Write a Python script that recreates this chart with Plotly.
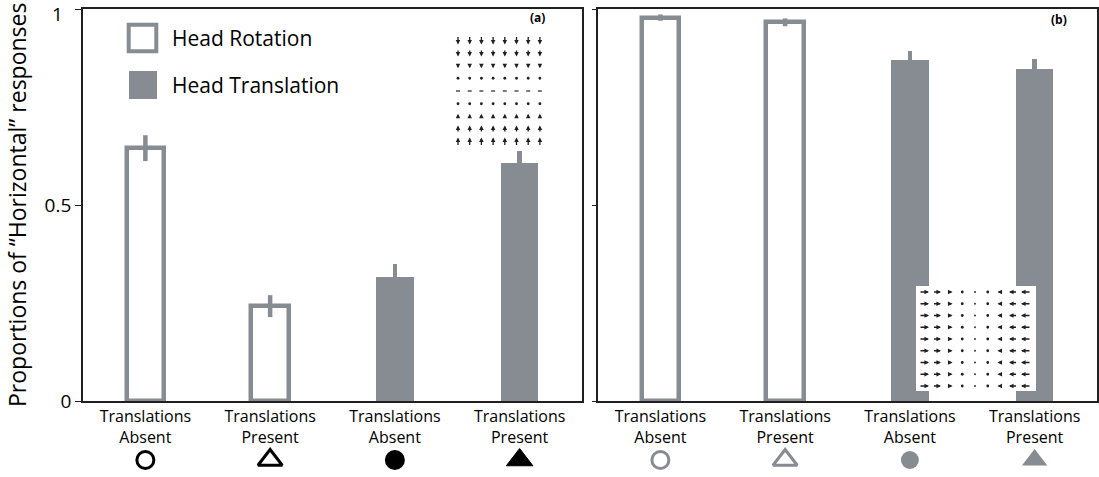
import plotly.graph_objects as go

# ---------------- data ----------------
categories = [1, 2, 3, 4]
tick_labels = ["Translations<br>Absent", "Translations<br>Present",
               "Translations<br>Absent", "Translations<br>Present"]
y_ticks = [0, 0.5, 1]
y_tick_labels = ["0", "0.5", "1"]

a_rotation = [0.645, 0.242]
a_rotation_err = [0.033, 0.028]
a_translation = [0.316, 0.606]
a_translation_err = [0.033, 0.033]

b_rotation = [0.978, 0.966]
b_rotation_err = [0.008, 0.010]
b_translation = [0.871, 0.848]
b_translation_err = [0.022, 0.025]

marker_symbols = ["circle-open", "triangle-up-open", "circle", "triangle-up"]

GRAY = "#878c93"
DARK = "#231f20"
FONT = "Open Sans"
W, H = 1099, 477

def px(x):
    return x / W

def py(y):
    return 1 - y / H

fig = go.Figure()

def add_panel(xa, ya, ym, rot, rot_err, tr, tr_err, mcolor, sizes, lw):
    fig.add_trace(go.Bar(
        x=categories[:2], y=rot, width=0.3, name="Head Rotation",
        marker=dict(color="white", line=dict(color=GRAY, width=4.5)),
        error_y=dict(type="data", array=rot_err, color=GRAY, thickness=4.5, width=0),
        xaxis=xa, yaxis=ya, showlegend=False))
    fig.add_trace(go.Bar(
        x=categories[2:], y=tr, width=0.3, name="Head Translation",
        marker=dict(color=GRAY, line=dict(width=0)),
        error_y=dict(type="data", array=tr_err, color=GRAY, thickness=4.5, width=0),
        xaxis=xa, yaxis=ya, showlegend=False))
    fig.add_trace(go.Scatter(
        x=categories, y=[0.5] * 4, mode="markers", cliponaxis=False,
        marker=dict(symbol=marker_symbols, size=sizes, color=mcolor, opacity=1,
                    line=dict(color=mcolor, width=lw)),
        xaxis=xa, yaxis=ym, showlegend=False, hoverinfo="skip"))

add_panel("x", "y", "y3", a_rotation, a_rotation_err, a_translation, a_translation_err,
          "#000000", [17, 21, 20, 23], [3, 3, 0, 1])
add_panel("x2", "y2", "y4", b_rotation, b_rotation_err, b_translation, b_translation_err,
          GRAY, [17, 21, 18, 22], [3, 3, 0, 0])

ydom = [py(401), py(9)]
axis_common = dict(showline=True, mirror=True, linecolor=DARK, linewidth=1.8,
                   showgrid=False, zeroline=False, automargin=False)
fig.update_layout(
    template="none",
    width=W, height=H, margin=dict(l=0, r=0, t=0, b=0, pad=0),
    paper_bgcolor="white", plot_bgcolor="white",
    font=dict(family=FONT, color="black"),
    bargap=0, showlegend=False,
    xaxis=dict(domain=[px(83), px(582)], range=[0.5, 4.5], tickvals=categories,
               ticktext=tick_labels, ticks="", tickfont=dict(size=16, family=FONT, color="black"),
               anchor="y", **axis_common),
    # the top label "1" sits a little below its tick in the reference; drawn as annotation
    yaxis=dict(domain=ydom, range=[0, 1], tickvals=y_ticks,
               ticktext=[y_tick_labels[0], y_tick_labels[1], ""],
               ticks="outside", ticklen=6, tickcolor=DARK, tickwidth=1,
               tickfont=dict(size=19, family=FONT, color="black"), anchor="x", **axis_common),
    xaxis2=dict(domain=[px(598), px(1097)], range=[0.5, 4.5], tickvals=categories,
                ticktext=tick_labels, ticks="", tickfont=dict(size=16, family=FONT, color="black"),
                anchor="y2", **axis_common),
    yaxis2=dict(domain=ydom, range=[0, 1], tickvals=y_ticks, showticklabels=False,
                ticks="outside", ticklen=4, tickcolor=DARK, tickwidth=1,
                anchor="x2", **axis_common),
    yaxis3=dict(domain=[py(470), py(450)], range=[0, 1], visible=False, anchor="x"),
    yaxis4=dict(domain=[py(470), py(450)], range=[0, 1], visible=False, anchor="x2"),
)

shapes = []
annotations = []

def text(x, y, s, size, anchor="center", angle=0):
    annotations.append(dict(x=px(x), y=py(y), xref="paper", yref="paper", text=s,
                            xanchor=anchor, yanchor="middle", textangle=angle,
                            showarrow=False, font=dict(size=size, family=FONT, color="black")))

# y-axis title
text(17, 205, "Proportions of \u201cHorizontal\u201d responses", 23, angle=-90)
# top y tick label
text(65, 14, y_tick_labels[2], 19, anchor="right")

# panel labels
text(537, 18, "<b>(a)</b>", 12)
text(1059, 20, "<b>(b)</b>", 12)

# legend (drawn)
shapes.append(dict(type="rect", xref="paper", yref="paper",
                   x0=px(128.7), x1=px(156.3), y0=py(51.3), y1=py(24.7),
                   fillcolor="white", line=dict(color=GRAY, width=4)))
shapes.append(dict(type="rect", xref="paper", yref="paper",
                   x0=px(129), x1=px(157), y0=py(99), y1=py(71),
                   fillcolor=GRAY, line=dict(width=0)))
text(170, 38, "Head Rotation", 21, anchor="left")
text(170, 85, "Head Translation", 21, anchor="left")

def arrow(xh, yh, ax, ay):
    annotations.append(dict(x=px(xh), y=py(yh), xref="paper", yref="paper", text="",
                            showarrow=True, ax=ax, ay=ay, arrowhead=2, arrowsize=0.7,
                            arrowwidth=1.3, arrowcolor=DARK, standoff=0, startstandoff=0))

def dot(xc, yc, r):
    shapes.append(dict(type="circle", xref="paper", yref="paper",
                       x0=px(xc - r), x1=px(xc + r), y0=py(yc + r), y1=py(yc - r),
                       fillcolor=DARK, line=dict(width=0)))

def dash(xc, yc, half):
    shapes.append(dict(type="line", xref="paper", yref="paper",
                       x0=px(xc - half), x1=px(xc + half), y0=py(yc), y1=py(yc),
                       line=dict(color=DARK, width=1.2)))

# inset (a): vertical flow converging on the middle row
a_cols = [458 + 11.7 * i for i in range(8)]
a_rows = [40 + 12.75 * j for j in range(9)]
a_len = [9, 7.5, 5.5, 0, 0, 0, 5.5, 7.5, 9]
for j, yc in enumerate(a_rows):
    for xc in a_cols:
        L = a_len[j]
        if j < 3:
            arrow(xc, yc + L / 2, 0, -L)
        elif j > 5:
            arrow(xc, yc - L / 2, 0, L)
        elif j == 4:
            dash(xc, yc, 2)
        else:
            dot(xc, yc, 1.4)

# inset (b): white card with horizontal flow converging on the middle column
shapes.append(dict(type="rect", xref="paper", yref="paper", layer="above",
                   x0=px(916), x1=px(1036), y0=py(391), y1=py(286),
                   fillcolor="white", line=dict(width=0)))
b_cols = [924 + 12.75 * i for i in range(9)]
b_rows = [292 + 11.75 * j for j in range(9)]
b_len = [10, 8.5, 6, 0, 0, 0, 6, 8.5, 10]
for i, xc in enumerate(b_cols):
    for yc in b_rows:
        L = b_len[i]
        if i < 3:
            arrow(xc + L / 2, yc, -L, 0)
        elif i > 5:
            arrow(xc - L / 2, yc, L, 0)
        elif i == 4:
            dot(xc, yc, 0.9)
        else:
            dot(xc, yc, 1.4)

for s in shapes:
    s.setdefault("layer", "above")
fig.update_layout(shapes=shapes, annotations=annotations)

fig.write_html("out.html", config={"displayModeBar": False},
               post_script="document.body.style.margin='0';")
